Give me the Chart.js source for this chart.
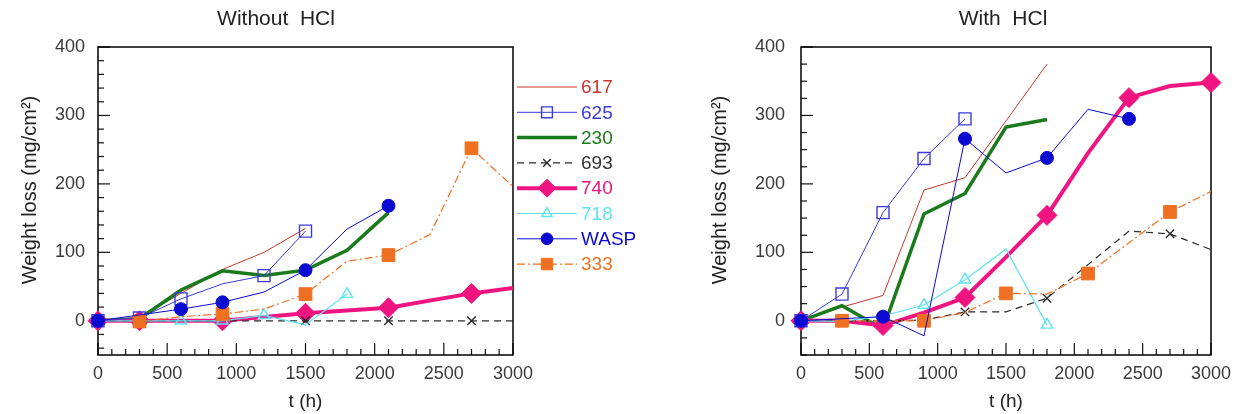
<!DOCTYPE html>
<html>
<head>
<meta charset="utf-8">
<script src="https://cdn.jsdelivr.net/npm/chart.js@4.4.1/dist/chart.umd.min.js"></script>
<style>
  html, body { margin: 0; padding: 0; background: #fff; }
  #wrap { position: relative; width: 1241px; height: 414px; overflow: hidden; }
  .pane { position: absolute; top: 0; height: 414px; }
  #paneLeft { left: 0; width: 640px; }
  #paneRight { left: 640px; width: 601px; }
</style>
</head>
<body>
<div id="wrap">
  <div class="pane" id="paneLeft"><canvas id="dryChart"></canvas></div>
  <div class="pane" id="paneRight"><canvas id="hclChart"></canvas></div>
</div>
<script>
(function () {
    'use strict';

    // exposure time grid (h) and axis labels
    const hours = [0, 300, 600, 900, 1200, 1500, 1800, 2100, 2400, 2700, 3000];
    const xTickLabels = [0, 500, 1000, 1500, 2000, 2500, 3000];
    const yTickLabels = [0, 100, 200, 300, 400];
    const seriesNames = ['617', '625', '230', '693', '740', '718', 'WASP', '333'];

    // Without HCl - weight loss (mg/cm2), null = no reading
    const noHcl617 = [0, 5, 40, 75, 100, 135, null, null, null, null, null];
    const noHcl625 = [0, 4, 32, 54, 66, 131, null, null, null, null, null];
    const noHcl230 = [0, 3, 45, 73, 66, 74, 103, 158, null, null, null];
    const noHcl693 = [0, 0, 0, 0, 0, 0, 0, 0, 0, 0, 0];
    const noHcl740 = [0, 0, null, 0, null, 11, null, 19, null, 40, 48];
    const noHcl718 = [0, 0, 0, 0, 8, -6, 39, null, null, null, null];
    const noHclWasp = [0, null, 17, 27, 42, 74, 134, 168, null, null, null];
    const noHcl333 = [null, -1, 6, 10, 17, 39, 87, 96, 126, 252, 196];

    // Without HCl - times that carry a symbol
    const noHclMarks617 = [];
    const noHclMarks625 = [0, 300, 600, 1200, 1500];
    const noHclMarks230 = [];
    const noHclMarks693 = [1500, 2100, 2700];
    const noHclMarks740 = [0, 300, 900, 1500, 2100, 2700];
    const noHclMarks718 = [600, 900, 1200, 1800];
    const noHclMarksWasp = [0, 600, 900, 1500, 2100];
    const noHclMarks333 = [300, 900, 1500, 2100, 2700];

    // With HCl - weight loss (mg/cm2)
    const hcl617 = [0, 20, 37, 191, 209, null, 375, null, null, null, null];
    const hcl625 = [0, 39, 158, 237, 295, null, null, null, null, null, null];
    const hcl230 = [0, 22, -12, 156, 186, 283, 294, null, null, null, null];
    const hcl693 = [0, 0, 0, 1, 13, 13, 33, 82, 131, 127, 104];
    const hcl740 = [0, 0, -7, 12, 34, 93, 154, 245, 326, 343, 348];
    const hcl718 = [0, -1, 7, 23, 60, 105, -6, null, null, null, null];
    const hclWasp = [0, null, 6, -22, 266, 216, 238, 309, 295, null, null];
    const hcl333 = [null, 0, null, 0, 12, 40, 39, 69, 114, 159, 189];

    // With HCl - times that carry a symbol
    const hclMarks617 = [];
    const hclMarks625 = [0, 300, 600, 900, 1200];
    const hclMarks230 = [];
    const hclMarks693 = [1200, 1800, 2700];
    const hclMarks740 = [0, 600, 1200, 1800, 2400, 3000];
    const hclMarks718 = [0, 900, 1200, 1800];
    const hclMarksWasp = [0, 600, 1200, 1800, 2400];
    const hclMarks333 = [300, 900, 1500, 2100, 2700];

    const FONT = '"Liberation Sans", Arial, sans-serif';

    // line / symbol look per alloy (z: lower is drawn on top)
    const looks = {
        '617':  { color: '#C8372D', width: 1,   dash: [],           shape: 'circle',   r: 0,   filled: false, z: 8 },
        '625':  { color: '#3B3BD9', width: 1,   dash: [],           shape: 'rect',     r: 8.5, filled: false, z: 3 },
        '230':  { color: '#1B7A1B', width: 3.5, dash: [],           shape: 'circle',   r: 0,   filled: false, z: 7 },
        '693':  { color: '#2A2A2A', width: 1.2, dash: [7, 5],       shape: 'crossRot', r: 6,   filled: false, z: 5 },
        '740':  { color: '#F01480', width: 4,   dash: [],           shape: 'rectRot',  r: 10,  filled: true,  z: 6 },
        '718':  { color: '#5EE3F2', width: 1.2, dash: [],           shape: 'triangle', r: 6.5, filled: false, z: 4 },
        'WASP': { color: '#0A0AD0', width: 1,   dash: [],           shape: 'circle',   r: 6.5, filled: true,  z: 1 },
        '333':  { color: '#F07022', width: 1.2, dash: [8, 3, 2, 3], shape: 'rect',     r: 9,   filled: true,  z: 2 }
    };

    function buildSets(valueLists, markLists) {
        return seriesNames.map((name, i) => {
            const lk = looks[name];
            const marks = markLists[i];
            return {
                label: name,
                data: hours.map((t, k) => ({ x: t, y: valueLists[i][k] })),
                borderColor: lk.color,
                backgroundColor: lk.color,
                borderWidth: lk.width,
                borderDash: lk.dash,
                pointStyle: lk.shape,
                pointBackgroundColor: lk.filled ? lk.color : 'rgba(0,0,0,0)',
                pointBorderColor: lk.color,
                pointBorderWidth: lk.filled ? 1 : 1.4,
                pointRadius: c => (c.raw && marks.includes(c.raw.x)) ? lk.r : 0,
                pointHoverRadius: 0,
                spanGaps: true,
                tension: 0,
                fill: false,
                clip: false,
                order: lk.z,
                legendR: lk.r
            };
        });
    }

    // frame and inward tick marks
    const axisFrame = {
        id: 'axisFrame',
        beforeDatasetsDraw(chart, args, o) {
            const { ctx, chartArea: a, scales: { x, y } } = chart;
            ctx.save();
            ctx.strokeStyle = '#111';
            ctx.lineWidth = 1.2;
            for (let t = 0; t <= 3000; t += 100) {
                const px = x.getPixelForValue(t);
                const len = t % 500 === 0 ? 12 : 6;
                ctx.beginPath();
                ctx.moveTo(px, a.bottom);
                ctx.lineTo(px, a.bottom - len);
                ctx.stroke();
            }
            const step = o.yMinor;
            for (let v = Math.ceil(-50 / step) * step; v <= 400; v += step) {
                const py = y.getPixelForValue(v);
                const len = v % 100 === 0 ? 12 : 6;
                ctx.beginPath();
                ctx.moveTo(a.left, py);
                ctx.lineTo(a.left + len, py);
                ctx.stroke();
            }
            ctx.lineWidth = 1.5;
            ctx.strokeStyle = '#000';
            ctx.strokeRect(a.left, a.top, a.right - a.left, a.bottom - a.top);
            ctx.restore();
        }
    };

    // chart heading and rotated y title
    const headings = {
        id: 'headings',
        afterDraw(chart, args, o) {
            const ctx = chart.ctx;
            ctx.save();
            ctx.fillStyle = '#222';
            ctx.textAlign = 'center';
            ctx.textBaseline = 'middle';
            ctx.font = '21px ' + FONT;
            ctx.fillText(o.title, o.titleX, 19);
            ctx.font = '20px ' + FONT;
            ctx.translate(o.yTitleX, 190);
            ctx.rotate(-Math.PI / 2);
            ctx.fillText('Weight loss (mg/cm\u00B2)', 0, 0);
            ctx.restore();
        }
    };

    // legend with line + symbol samples
    const sideLegend = {
        id: 'sideLegend',
        afterDraw(chart, args, o) {
            if (!o.show) return;
            const ctx = chart.ctx;
            chart.data.datasets.forEach((ds, i) => {
                const y = o.top + i * o.step;
                ctx.save();
                ctx.strokeStyle = ds.borderColor;
                ctx.lineWidth = ds.borderWidth;
                ctx.setLineDash(ds.borderDash || []);
                ctx.beginPath();
                ctx.moveTo(o.x, y);
                ctx.lineTo(o.x + o.len, y);
                ctx.stroke();
                ctx.setLineDash([]);
                if (ds.legendR > 0) {
                    ctx.fillStyle = ds.pointBackgroundColor;
                    ctx.strokeStyle = ds.pointBorderColor;
                    ctx.lineWidth = ds.pointBorderWidth;
                    Chart.helpers.drawPoint(ctx, {
                        pointStyle: ds.pointStyle,
                        radius: ds.legendR * 0.9,
                        borderWidth: ds.pointBorderWidth,
                        rotation: 0
                    }, o.x + o.len / 2, y);
                }
                ctx.fillStyle = ds.label === '693' ? '#333' : ds.borderColor;
                ctx.font = '19px ' + FONT;
                ctx.textAlign = 'left';
                ctx.textBaseline = 'middle';
                ctx.fillText(ds.label, o.x + o.len + 4, y + 1);
                ctx.restore();
            });
        }
    };

    function makeChart(canvasId, sets, cfg) {
        const tickFont = { family: FONT, size: 18 };
        return new Chart(document.getElementById(canvasId), {
            type: 'line',
            data: { datasets: sets },
            options: {
                responsive: true,
                maintainAspectRatio: false,
                animation: false,
                devicePixelRatio: 1,
                layout: { padding: { left: cfg.padLeft, right: cfg.padRight, top: 47, bottom: 0 } },
                scales: {
                    x: {
                        type: 'linear',
                        min: 0,
                        max: 3000,
                        afterBuildTicks: s => { s.ticks = xTickLabels.map(v => ({ value: v })); },
                        afterFit: s => {
                            s.height = 59;
                            s.paddingLeft = s.paddingRight = 0;
                        },
                        grid: { display: false, drawTicks: false },
                        border: { display: false },
                        ticks: {
                            font: tickFont, color: '#3a3a3a', padding: 8, maxRotation: 0, autoSkip: false,
                            callback: v => String(v)
                        },
                        title: {
                            display: true,
                            text: 't (h)',
                            font: { family: FONT, size: 19 },
                            color: '#222',
                            padding: { top: 0, bottom: 1 }
                        }
                    },
                    y: {
                        type: 'linear',
                        min: -50,
                        max: 400,
                        afterBuildTicks: s => { s.ticks = yTickLabels.map(v => ({ value: v })); },
                        afterFit: s => {
                            s.width = cfg.yWidth;
                            s.paddingTop = s.paddingBottom = 0;
                        },
                        grid: { display: false, drawTicks: false },
                        border: { display: false },
                        ticks: { font: tickFont, color: '#3a3a3a', padding: cfg.yPad, callback: v => String(v) }
                    }
                },
                plugins: {
                    legend: { display: false },
                    tooltip: { enabled: false },
                    axisFrame: { yMinor: cfg.yMinor },
                    headings: { title: cfg.title, titleX: cfg.titleX, yTitleX: cfg.yTitleX },
                    sideLegend: { show: cfg.legend, x: 517, len: 60, top: 87, step: 25.3 }
                }
            },
            plugins: [axisFrame, headings, sideLegend]
        });
    }

    const drySets = buildSets(
        [noHcl617, noHcl625, noHcl230, noHcl693, noHcl740, noHcl718, noHclWasp, noHcl333],
        [noHclMarks617, noHclMarks625, noHclMarks230, noHclMarks693, noHclMarks740, noHclMarks718, noHclMarksWasp, noHclMarks333]
    );
    const hclSets = buildSets(
        [hcl617, hcl625, hcl230, hcl693, hcl740, hcl718, hclWasp, hcl333],
        [hclMarks617, hclMarks625, hclMarks230, hclMarks693, hclMarks740, hclMarks718, hclMarksWasp, hclMarks333]
    );

    makeChart('dryChart', drySets, {
        padLeft: 0, padRight: 127, yWidth: 98, yPad: 13, yMinor: 20,
        title: 'Without  HCl', titleX: 276, yTitleX: 30, legend: true
    });
    makeChart('hclChart', hclSets, {
        padLeft: 50, padRight: 30, yWidth: 111, yPad: 16, yMinor: 25,
        title: 'With  HCl', titleX: 1003 - 640, yTitleX: 80, legend: false
    });
})();
</script>
</body>
</html>
